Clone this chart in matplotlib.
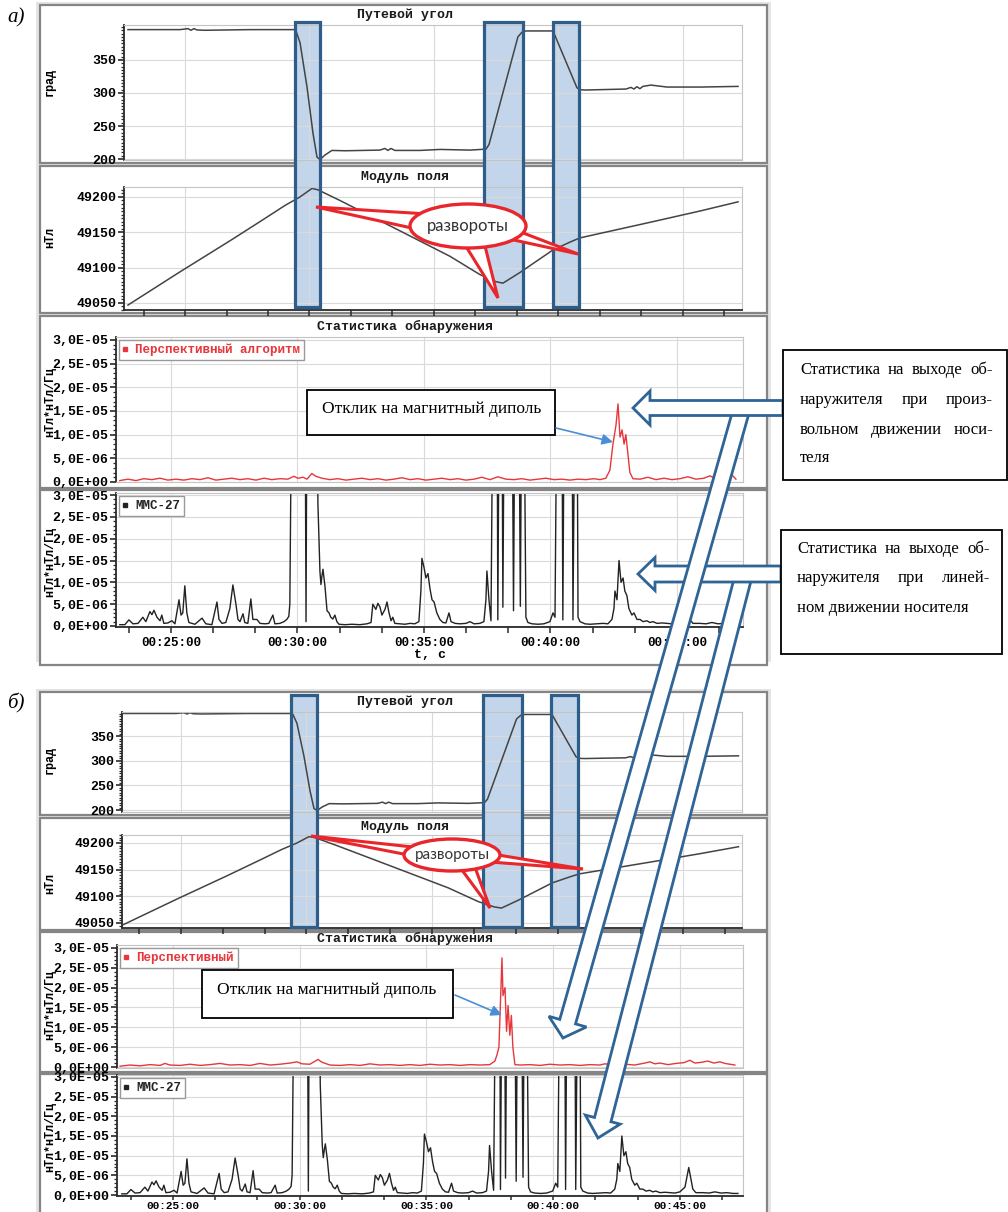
import numpy as np
import matplotlib
matplotlib.use('Agg')
import matplotlib.pyplot as plt
from matplotlib.patches import Rectangle, Ellipse, Polygon
from matplotlib.lines import Line2D
from matplotlib.ticker import MultipleLocator, FixedLocator, FuncFormatter
from matplotlib.transforms import blended_transform_factory

plt.rcParams['font.family'] = ['Liberation Mono', 'DejaVu Sans Mono']
plt.rcParams['font.weight'] = 'bold'

W, H = 1008, 1212
SERIF = ['Liberation Serif', 'DejaVu Serif']
SANS = ['Lato', 'DejaVu Sans']
RED = '#e8363a'
BLUE = '#2f6496'
GRID = '#dadada'
AXIS = '#2a2a2a'

# ---- data (time in minutes of record) ----
# Путевой угол, град
heading_t = [22.71, 24.80, 25.12, 25.24, 25.36, 25.48, 25.80, 27.61, 29.38, 29.46,
             29.62, 29.90, 30.14, 30.30, 30.42, 30.62, 30.90, 31.43, 32.83, 33.03,
             33.15, 33.27, 33.43, 34.44, 35.24, 36.45, 37.09, 37.21, 38.37, 38.53,
             38.69, 39.74, 39.78, 40.74, 40.86, 41.07, 42.71, 42.91, 43.03, 43.15,
             43.27, 43.39, 43.71, 44.36, 45.72, 47.21]
heading = [396, 396, 397.5, 395, 397.5, 395.5, 395, 396, 396, 394,
           376, 309, 239, 203, 199, 206, 213, 212.5, 213.5, 216,
           213, 216, 213, 213, 214.5, 213.5, 215, 222, 385, 392,
           394, 394, 394, 308, 305, 304.5, 306, 308.5, 306, 309.5,
           306.5, 310, 312, 309, 309, 310]

# Модуль поля, нТл
field_t = [22.71, 24.80, 26.81, 28.01, 29.02, 29.62, 30.10, 30.34, 31.22, 33.63,
           35.64, 36.85, 37.49, 37.77, 38.45, 39.78, 40.46, 40.86, 43.67, 45.68, 47.21]
field = [49047, 49094, 49138, 49165, 49188, 49200, 49212, 49210, 49195, 49152,
         49116, 49090, 49080, 49078, 49093, 49125, 49136, 49142, 49164, 49180, 49193]

# ММС-27 statistic, units of 1e-6 (60 = off scale)
mms_t = [22.98, 23.18, 23.34, 23.50, 23.70, 23.89, 24.01, 24.17, 24.25, 24.33,
         24.45, 24.57, 24.64, 24.72, 24.88, 25.04, 25.16, 25.32, 25.40, 25.47,
         25.55, 25.63, 25.71, 25.95, 26.23, 26.38, 26.62, 26.82, 26.90, 27.02,
         27.17, 27.33, 27.45, 27.57, 27.65, 27.73, 27.85, 27.92, 28.04, 28.16,
         28.24, 28.40, 28.52, 28.72, 28.87, 29.03, 29.11, 29.31, 29.47, 29.58,
         29.66, 29.70, 29.78, 30.30, 30.34, 30.38, 30.77, 30.81, 30.89, 30.93,
         30.97, 31.01, 31.09, 31.17, 31.25, 31.32, 31.40, 31.48, 31.56, 31.64,
         31.88, 32.15, 32.47, 32.75, 32.91, 32.98, 33.10, 33.18, 33.26, 33.34,
         33.46, 33.54, 33.62, 33.70, 33.77, 33.85, 34.05, 34.25, 34.45, 34.64,
         34.80, 34.88, 34.92, 35.00, 35.08, 35.16, 35.24, 35.32, 35.40, 35.51,
         35.63, 35.75, 35.87, 35.99, 36.07, 36.23, 36.42, 36.66, 36.82, 36.98,
         37.21, 37.37, 37.45, 37.49, 37.57, 37.65, 37.73, 37.89, 37.92, 37.98,
         38.08, 38.12, 38.18, 38.24, 38.48, 38.54, 38.60, 38.75, 38.81, 38.87,
         38.95, 39.03, 39.11, 39.27, 39.51, 39.74, 39.98, 40.10, 40.18, 40.26,
         40.45, 40.49, 40.55, 40.85, 40.89, 40.97, 41.05, 41.09, 41.17, 41.36,
         41.56, 41.80, 42.08, 42.27, 42.43, 42.51, 42.55, 42.63, 42.71, 42.79,
         42.87, 42.94, 43.02, 43.10, 43.22, 43.30, 43.42, 43.54, 43.66, 43.81,
         43.93, 44.05, 44.21, 44.41, 44.60, 44.80, 45.00, 45.20, 45.35, 45.51,
         45.63, 45.91, 46.15, 46.38, 46.62, 46.86, 47.09, 47.29]
mms = [0.3, 0.3, 1.4, 0.5, 0.6, 2.0, 1.0, 3.3, 2.6, 3.6,
       2.0, 1.2, 2.5, 0.6, 0.7, 1.2, 0.5, 6.0, 2.5, 3.0,
       9.2, 3.0, 0.8, 0.4, 1.8, 0.5, 0.3, 5.5, 1.5, 0.6,
       0.8, 4.0, 9.4, 5.0, 1.5, 1.0, 2.8, 0.8, 0.6, 6.2,
       1.5, 1.5, 0.6, 0.5, 0.6, 2.5, 0.5, 0.6, 1.0, 1.5,
       2.2, 5.0, 60, 60, 1.0, 60, 60, 28, 12.5, 9.5,
       11.5, 13.0, 9.0, 3.5, 3.0, 2.0, 1.6, 2.5, 1.0, 0.4,
       0.3, 0.4, 0.3, 0.5, 0.8, 5.0, 3.8, 5.2, 4.4, 2.5,
       3.8, 5.5, 3.0, 1.2, 2.0, 0.6, 0.5, 0.4, 0.6, 0.5,
       1.0, 8.0, 15.5, 13.5, 11.0, 12.0, 8.5, 6.0, 5.5, 3.0,
       1.5, 0.8, 0.7, 3.0, 1.0, 0.6, 0.5, 0.6, 1.0, 0.5,
       0.6, 1.0, 6.0, 12.6, 6.0, 1.2, 60, 60, 1.4, 60,
       60, 4.3, 60, 60, 60, 3.5, 60, 60, 4.5, 60,
       60, 2.0, 0.8, 0.5, 0.4, 0.5, 1.0, 3.0, 2.0, 60,
       60, 1.4, 60, 60, 1.4, 60, 60, 2.0, 1.0, 0.5,
       0.4, 0.5, 0.6, 0.5, 1.5, 4.0, 8.0, 6.0, 15.0, 10.0,
       11.0, 8.0, 7.0, 4.0, 2.5, 3.0, 1.5, 1.5, 1.0, 1.2,
       0.8, 1.0, 0.6, 0.7, 0.6, 0.5, 0.8, 2.0, 7.0, 1.5,
       0.6, 0.6, 0.5, 0.8, 0.5, 0.6, 0.4, 0.4]

# Перспективный алгоритм, (а) arbitrary motion
red_a_t = [22.98, 23.30, 23.62, 23.93, 24.25, 24.57, 24.88, 25.20, 25.51, 25.83,
           26.15, 26.46, 26.78, 27.09, 27.41, 27.73, 28.04, 28.36, 28.68, 28.99,
           29.31, 29.62, 29.86, 30.02, 30.22, 30.38, 30.57, 30.73, 30.97, 31.28,
           31.60, 31.92, 32.23, 32.55, 32.87, 33.18, 33.50, 33.81, 34.13, 34.45,
           34.76, 35.08, 35.40, 35.71, 36.03, 36.34, 36.66, 36.98, 37.29, 37.61,
           37.92, 38.24, 38.56, 38.87, 39.19, 39.51, 39.82, 40.14, 40.45, 40.77,
           41.09, 41.40, 41.72, 41.96, 42.19, 42.35, 42.47, 42.59, 42.67, 42.75,
           42.83, 42.91, 42.98, 43.06, 43.14, 43.26, 43.54, 43.85, 44.17, 44.49,
           44.80, 45.12, 45.43, 45.75, 46.07, 46.30, 46.54, 46.86, 47.17, 47.33]
red_a = [0.3, 0.6, 0.3, 0.7, 0.5, 0.8, 0.4, 0.6, 0.4, 0.7,
         0.5, 0.9, 0.4, 0.6, 0.8, 0.5, 0.7, 0.4, 0.8, 0.5,
         0.7, 0.6, 1.2, 0.8, 1.0, 0.6, 1.8, 1.2, 0.8, 0.5,
         0.7, 0.4, 0.6, 0.8, 0.5, 0.7, 0.4, 0.6, 0.9, 0.5,
         0.7, 0.4, 0.6, 0.8, 0.5, 0.7, 0.4, 0.6, 1.0, 0.5,
         1.1, 0.6, 0.5, 0.7, 0.4, 0.6, 0.8, 0.5, 0.6, 0.4,
         0.6, 0.5, 0.7, 0.5, 0.8, 2.5, 8.0, 12.0, 16.5, 9.5,
         11.0, 8.0, 10.0, 6.0, 2.0, 0.7, 0.6, 1.0, 0.5, 0.8,
         0.5, 0.7, 1.1, 0.6, 0.8, 1.3, 0.7, 1.0, 1.5, 0.6]

# Перспективный, (б) linear motion
red_b_t = [22.91, 23.30, 23.70, 24.09, 24.49, 24.68, 24.88, 25.28, 25.67, 26.07,
           26.46, 26.85, 27.25, 27.64, 28.04, 28.43, 28.83, 29.22, 29.62, 29.89,
           30.09, 30.40, 30.72, 30.88, 31.19, 31.59, 31.98, 32.38, 32.77, 33.17,
           33.56, 33.95, 34.35, 34.74, 35.14, 35.53, 35.93, 36.32, 36.72, 37.11,
           37.50, 37.70, 37.78, 37.86, 37.94, 37.98, 38.02, 38.10, 38.16, 38.22,
           38.29, 38.35, 38.41, 38.49, 38.69, 39.08, 39.48, 39.87, 40.27, 40.66,
           41.06, 41.45, 41.84, 42.04, 42.44, 42.83, 43.22, 43.62, 43.82, 44.01,
           44.21, 44.53, 44.84, 45.16, 45.39, 45.59, 45.87, 46.10, 46.34, 46.58,
           46.78, 46.97, 47.17]
red_b = [0.2, 0.5, 0.3, 0.6, 0.4, 0.9, 0.5, 0.4, 0.7, 0.4,
         0.6, 0.9, 0.5, 0.6, 0.4, 0.9, 0.5, 0.7, 1.0, 1.3,
         0.8, 0.7, 1.9, 1.2, 0.5, 0.4, 0.6, 0.4, 0.8, 0.5,
         0.6, 0.4, 0.6, 0.4, 0.7, 0.5, 0.6, 0.4, 0.6, 0.5,
         0.6, 1.5, 3.0, 5.0, 20.0, 27.5, 18.0, 20.0, 9.0, 15.5,
         8.0, 13.0, 5.0, 0.6, 0.5, 0.6, 0.4, 0.7, 0.5, 0.6,
         0.4, 0.6, 0.5, 0.8, 0.5, 0.7, 0.5, 1.0, 1.3, 0.8,
         1.0, 0.6, 0.9, 1.1, 1.7, 1.0, 1.2, 1.5, 1.0, 1.3,
         0.9, 0.7, 0.5]

# turns (развороты), minutes
turn_start = [29.40, 37.02, 39.76]
turn_end = [30.42, 38.58, 40.82]

panel_titles = ['Путевой угол', 'Модуль поля', 'Статистика обнаружения']
legend_red = ['Перспективный алгоритм', 'Перспективный']
legend_black = 'ММС-27'

fig = plt.figure(figsize=(W / 100, H / 100), dpi=100)


def pix_axes(l, t, r, b, z):
    ax = fig.add_axes([l / W, 1 - b / H, (r - l) / W, (b - t) / H], zorder=z)
    return ax


bg = pix_axes(0, 0, W, H, 0)
bg.set_xlim(0, W); bg.set_ylim(H, 0); bg.axis('off')
over = pix_axes(0, 0, W, H, 5)
over.set_xlim(0, W); over.set_ylim(H, 0); over.axis('off')

# grey panel frames
for top, bot, frames in [(2, 662, [(5, 163), (166, 313), (316, 488), (490, 665)]),
                         (689, 1214, [(692, 815), (818, 930), (932, 1072), (1074, 1216)])]:
    bg.add_patch(Rectangle((36, top), 735, bot - top, fc='#e4e4e4', ec='none', zorder=0))
    for ft, fb in frames:
        bg.add_patch(Rectangle((40, ft), 727, fb - ft, fc='white', ec='#858585', lw=1.6, zorder=0.5))


def time_fmt(v, p):
    return f"00:{int(round(v)):02d}:00"


def stat_fmt(v, p):
    return f"{v * 1e-6:.1E}".replace('.', ',')


def style(ax, xlim, ylim, yticks, yminor, yfmt, xmode, xsize=9, xpad=3, xlen=4):
    ax.set_facecolor('none')
    ax.set_xlim(xlim); ax.set_ylim(ylim)
    ax.yaxis.set_major_locator(FixedLocator(yticks))
    ax.yaxis.set_minor_locator(MultipleLocator(yminor))
    ax.yaxis.set_major_formatter(FuncFormatter(yfmt))
    ax.xaxis.set_major_locator(MultipleLocator(5))
    ax.xaxis.set_minor_locator(MultipleLocator(5 / 3))
    ax.grid(True, which='major', color=GRID, lw=0.8)
    ax.set_axisbelow(True)
    for s in ('top', 'right'):
        ax.spines[s].set_color('#c4c4c4'); ax.spines[s].set_linewidth(0.8)
    ax.spines['left'].set_color(AXIS); ax.spines['left'].set_linewidth(1.3)
    ax.tick_params(axis='y', which='major', length=4, width=1.2, color=AXIS,
                   labelsize=9.5, pad=1.5)
    ax.tick_params(axis='y', which='minor', length=2, width=0.9, color=AXIS)
    if xmode == 'none':
        ax.spines['bottom'].set_color('#c4c4c4'); ax.spines['bottom'].set_linewidth(0.8)
        ax.tick_params(axis='x', which='both', length=0, labelbottom=False)
    else:
        ax.spines['bottom'].set_color(AXIS); ax.spines['bottom'].set_linewidth(1.3)
        ax.tick_params(axis='x', which='both', length=xlen, width=1.1, color=AXIS,
                       labelbottom=(xmode == 'labels'), labelsize=xsize, pad=xpad)
        ax.xaxis.set_major_formatter(FuncFormatter(time_fmt))


def legend(ax, label, color):
    h = Line2D([], [], ls='none', marker='s', ms=2.5, color=color)
    ax.legend([h], [label], loc='upper left', frameon=True, fancybox=False,
              edgecolor='#999999', framealpha=1, handlelength=0.4, handletextpad=0.6,
              borderpad=0.3, borderaxespad=0.25, labelcolor=color,
              prop={'family': ['Liberation Mono'], 'weight': 'bold', 'size': 9})


layouts = [
    dict(p1=(124, 25, 742, 160), p2=(124, 187, 742, 310), p3=(116, 337, 743, 482),
         p4=(116, 493, 743, 627), xtop=(22.55, 47.37), xbot=(22.83, 47.61),
         y1=(198.5, 403), y2=(49040, 49214), y3=(0, 30.63), y4=(-0.23, 30.46),
         red_t=red_a_t, red=red_a, leg=legend_red[0], rect=(22, 307),
         titles=(15, 177, 326), ylab=(82, 237, 402, 562), xt=(9, 3, 4)),
    dict(p1=(122, 712, 742, 812), p2=(122, 835, 742, 928), p3=(117, 945, 743, 1068),
         p4=(117, 1075, 743, 1196), xtop=(22.65, 47.35), xbot=(22.79, 47.49),
         y1=(196, 399), y2=(49040.6, 49215), y3=(-0.25, 30.75), y4=(-0.25, 30.5),
         red_t=red_b_t, red=red_b, leg=legend_red[1], rect=(695, 927),
         titles=(702, 827, 938), ylab=(760, 883, 1005, 1137), xt=(8, 0.5, 3)),
]

for L in layouts:
    ax1 = pix_axes(*L['p1'], 2)
    ax1.plot(heading_t, heading, color='#444444', lw=1.1)
    style(ax1, L['xtop'], L['y1'], [200, 250, 300, 350], 5,
          lambda v, p: f"{v:.0f}", 'none')

    ax2 = pix_axes(*L['p2'], 2)
    ax2.plot(field_t, field, color='#444444', lw=1.1)
    style(ax2, L['xtop'], L['y2'], [49050, 49100, 49150, 49200], 5,
          lambda v, p: f"{v:.0f}", 'ticks')

    ax3 = pix_axes(*L['p3'], 2)
    ax3.plot(L['red_t'], L['red'], color=RED, lw=1.0)
    style(ax3, L['xbot'], L['y3'], [0, 5, 10, 15, 20, 25, 30], 1, stat_fmt, 'none')
    legend(ax3, L['leg'], RED)

    ax4 = pix_axes(*L['p4'], 2)
    ax4.plot(mms_t, mms, color='#222222', lw=1.0)
    xs, xp, xl = L['xt']
    style(ax4, L['xbot'], L['y4'], [0, 5, 10, 15, 20, 25, 30], 1, stat_fmt, 'labels',
          xsize=xs, xpad=xp, xlen=xl)
    legend(ax4, legend_black, '#222222')

    # highlighted turns spanning two top panels: fill under the curves, outline on top
    tr_bg = blended_transform_factory(ax1.transData, bg.transData)
    tr_over = blended_transform_factory(ax1.transData, over.transData)
    y0, y1 = L['rect']
    for t0, t1 in zip(turn_start, turn_end):
        bg.add_patch(Rectangle((t0, y0), t1 - t0, y1 - y0, transform=tr_bg, fc='#c3d5ea',
                               ec='none', clip_on=False, zorder=1))
        over.add_patch(Rectangle((t0, y0), t1 - t0, y1 - y0, transform=tr_over, fill=False,
                                 ec='#2e5d8a', lw=2.3, clip_on=False, zorder=2))

    for yy, txt in zip(L['titles'], panel_titles):
        over.text(405, yy, txt, ha='center', va='center', fontsize=9.5, color='#1a1a1a')
    for yy, txt in zip(L['ylab'], ['град', 'нТл', 'нТл*нТл/Гц', 'нТл*нТл/Гц']):
        over.text(50, yy, txt, ha='center', va='center', rotation=90, fontsize=8.5)

over.text(430, 655, 't, с', ha='center', va='center', fontsize=9.5)
over.text(16, 18, 'а)', ha='center', va='center', fontsize=15, family=SERIF,
          style='italic', weight='normal')
over.text(16, 703, 'б)', ha='center', va='center', fontsize=15, family=SERIF,
          style='italic', weight='normal')


# "развороты" callouts
def callout(center, w, h, wedges, size):
    for tip, b1, b2 in wedges:
        over.add_patch(Polygon([tip, b1, b2], closed=True, fc='white', ec='#e8262b',
                               lw=2.2, zorder=3, joinstyle='miter'))
    over.add_patch(Ellipse(center, w, h, fc='white', ec='#e8262b', lw=2.4, zorder=3))
    over.text(center[0], center[1], 'развороты', ha='center', va='center', fontsize=size,
              family=SANS, weight='normal', color='#333333', zorder=4)


callout((468, 226), 116, 44, [((316, 207), (428, 214), (430, 232)),
                              ((498, 298), (462, 240), (484, 242)),
                              ((578, 254), (505, 226), (514, 240))], 12)
callout((452, 855), 96, 32, [((311, 836), (422, 848), (424, 858)),
                             ((490, 908), (456, 862), (473, 862)),
                             ((583, 869), (480, 852), (490, 862))], 11)


def block_arrow(tail, tip, half_shaft, half_head, head_len):
    tail = np.array(tail, float); tip = np.array(tip, float)
    d = tip - tail
    u = d / np.hypot(d[0], d[1])
    n = np.array([-u[1], u[0]])
    base = tip - u * head_len
    pts = [tail + n * half_shaft, base + n * half_shaft, base + n * half_head, tip,
           base - n * half_head, base - n * half_shaft, tail - n * half_shaft]
    over.add_patch(Polygon(pts, closed=True, fc='white', ec=BLUE, lw=2.0,
                           joinstyle='miter', zorder=6))


block_arrow((744, 574), (598, 1138), 8.5, 18, 19)
block_arrow((781, 574), (638, 574), 8, 16.5, 17)
block_arrow((742, 408), (563, 1038), 8.2, 19.5, 17)
block_arrow((783, 408), (633, 408), 7.5, 17, 17)

# dipole response boxes with thin arrows
for (l, t, r, b), (tx, ty), (p0, p1) in [((307, 390, 555, 435), (322, 409), ((556, 428), (613, 442))),
                                         ((202, 970, 453, 1018), (217, 990), ((455, 995), (502, 1015)))]:
    over.add_patch(Rectangle((l, t), r - l, b - t, fc='white', ec='black', lw=1.3, zorder=7))
    over.text(tx, ty, 'Отклик на магнитный диполь', ha='left', va='center', fontsize=12.5,
              family=SERIF, weight='normal', zorder=8)
    over.annotate('', xy=p1, xytext=p0, zorder=8,
                  arrowprops=dict(arrowstyle='-|>', color='#4a8fd6', lw=1.2,
                                  mutation_scale=16, shrinkA=0, shrinkB=0))

# right-hand explanation boxes
over.add_patch(Rectangle((783, 350), 224, 130, fc='white', ec='black', lw=1.3, zorder=7))
over.add_patch(Rectangle((781, 530), 221, 124, fc='white', ec='black', lw=1.3, zorder=7))

renderer = fig.canvas.get_renderer()


def text_line(words, x0, x1, y, justify):
    kw = dict(va='center', fontsize=12, family=SERIF, weight='normal', zorder=8)
    if not justify:
        over.text(x0, y, ' '.join(words), ha='left', **kw)
        return
    arts = [over.text(x0, y, w, ha='left', **kw) for w in words]
    widths = [a.get_window_extent(renderer).width for a in arts]
    gap = (x1 - x0 - sum(widths)) / (len(words) - 1)
    x = x0
    for a, w in zip(arts, widths):
        a.set_x(x)
        x += w + gap


text_line(['Статистика', 'на', 'выходе', 'об-'], 800, 993, 370, True)
text_line(['наружителя', 'при', 'произ-'], 800, 993, 400, True)
text_line(['вольном', 'движении', 'носи-'], 800, 993, 430, True)
text_line(['теля'], 800, 993, 458, False)
text_line(['Статистика', 'на', 'выходе', 'об-'], 797, 990, 549, True)
text_line(['наружителя', 'при', 'линей-'], 797, 990, 578, True)
text_line(['ном', 'движении', 'носителя'], 797, 990, 608, False)

fig.savefig('out.png', dpi=100)
